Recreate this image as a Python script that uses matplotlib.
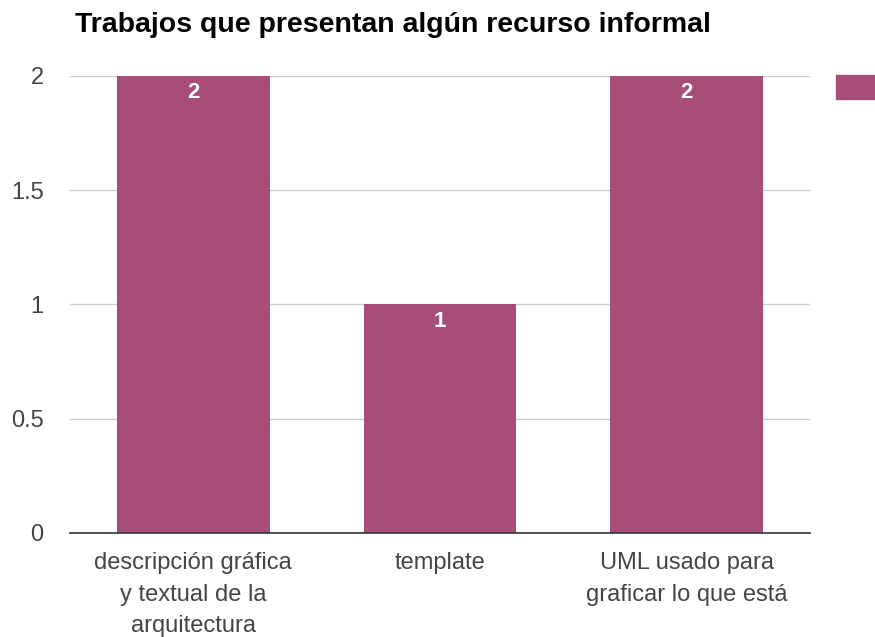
import matplotlib.pyplot as plt
from matplotlib.patches import Rectangle

# datos
categorias = ["descripción gráfica\ny textual de la\narquitectura",
              "template",
              "UML usado para\ngraficar lo que está"]
valores = [2, 1, 2]
ticks_y = [0, 0.5, 1, 1.5, 2]
etiquetas_y = ["0", "0.5", "1", "1.5", "2"]

color_barra = "#a64d79"
plt.rcParams['font.family'] = ['Liberation Sans', 'DejaVu Sans']

fig = plt.figure(figsize=(8.75, 6.37), dpi=100)
ax = fig.add_axes([0.08, 0.1633, 0.8457, 0.7174])

x = range(len(categorias))
barras = ax.bar(x, valores, width=0.62, color=color_barra, zorder=2)

for b, v in zip(barras, valores):
    ax.annotate(str(v), (b.get_x() + b.get_width() / 2, v),
                xytext=(0, -4.5), textcoords='offset points',
                ha='center', va='top', color='white',
                fontsize=16, fontweight='bold', zorder=3)

ax.set_xlim(-0.5, 2.5)
ax.set_ylim(0, 2)
ax.set_yticks(ticks_y)
ax.set_yticklabels(etiquetas_y)
ax.set_xticks(list(x))
ax.set_xticklabels(categorias, linespacing=1.55)
ax.tick_params(axis='both', length=0, labelsize=17, labelcolor='#444444')
ax.tick_params(axis='x', pad=14)
ax.tick_params(axis='y', pad=19)

ax.grid(axis='y', color='#cccccc', linewidth=1, zorder=0)
ax.set_axisbelow(True)
for s in ['top', 'right', 'left']:
    ax.spines[s].set_visible(False)
ax.spines['bottom'].set_color('#333333')
ax.spines['bottom'].set_linewidth(1.2)
ax.spines['bottom'].set_zorder(4)

fig.text(75 / 875, 1 - 25 / 637, "Trabajos que presentan algún recurso informal",
         fontsize=20.5, fontweight='bold', color='#000000', va='center')

# leyenda (recortada en el borde)
fig.patches.append(Rectangle((836 / 875, 1 - 99 / 637), 40 / 875, 24 / 637,
                             transform=fig.transFigure, color=color_barra))

fig.savefig("out.png", dpi=100)
